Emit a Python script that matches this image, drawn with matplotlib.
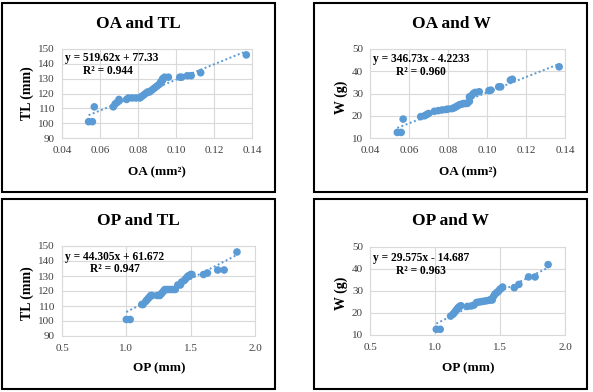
import matplotlib
matplotlib.use("Agg")
import matplotlib.pyplot as plt
from matplotlib.patches import Rectangle
import numpy as np

plt.rcParams['font.family'] = ['Liberation Serif', 'DejaVu Serif']

# ---- data ----
oa_tl_x = [0.054, 0.056, 0.057, 0.067, 0.068, 0.069, 0.070, 0.070, 0.074, 0.075, 0.077, 0.079,
           0.081, 0.082, 0.083, 0.084, 0.085, 0.086, 0.087, 0.088, 0.089, 0.090, 0.091, 0.092,
           0.092, 0.093, 0.093, 0.094, 0.096, 0.102, 0.103, 0.106, 0.108, 0.113, 0.137]
oa_tl_y = [101, 101, 111, 111, 113, 114, 115, 116, 116, 117, 117, 117,
           117, 118, 119, 120, 121, 121, 122, 123, 124, 125, 126, 127,
           128, 129, 130, 131, 131, 131, 131, 132, 132, 134, 146]

oa_w_x = [0.054, 0.056, 0.057, 0.066, 0.068, 0.069, 0.070, 0.073, 0.075, 0.077, 0.079, 0.080,
          0.082, 0.083, 0.084, 0.085, 0.086, 0.087, 0.088, 0.089, 0.090, 0.091, 0.091, 0.092,
          0.093, 0.094, 0.096, 0.101, 0.102, 0.106, 0.107, 0.112, 0.113, 0.137]
oa_w_y = [12.5, 12.5, 18.5, 19.6, 20.0, 20.5, 21.0, 22.0, 22.3, 22.6, 22.8, 23.0,
          23.2, 23.5, 24.0, 24.5, 25.0, 25.2, 25.5, 25.5, 25.6, 26.5, 28.5, 29.0,
          30.0, 30.5, 30.8, 31.3, 31.5, 33.0, 33.0, 36.0, 36.4, 42.0]

op_tl_x = [1.00, 1.03, 1.12, 1.13, 1.15, 1.16, 1.17, 1.18, 1.19, 1.20, 1.24, 1.26,
           1.27, 1.28, 1.29, 1.30, 1.32, 1.34, 1.36, 1.38, 1.40, 1.42, 1.43, 1.45,
           1.46, 1.47, 1.48, 1.49, 1.50, 1.51, 1.60, 1.63, 1.71, 1.76, 1.86]
op_tl_y = [101, 101, 111, 111, 113, 114, 115, 116, 117, 117, 117, 117,
           118, 119, 120, 121, 121, 121, 121, 121, 124, 124, 126, 127,
           128, 129, 130, 130, 131, 131, 131, 132, 134, 134, 146]

op_w_x = [1.01, 1.04, 1.12, 1.14, 1.15, 1.16, 1.17, 1.18, 1.19, 1.20, 1.25, 1.28,
          1.30, 1.32, 1.34, 1.36, 1.38, 1.40, 1.42, 1.44, 1.45, 1.46, 1.47, 1.48,
          1.49, 1.50, 1.51, 1.52, 1.61, 1.645, 1.72, 1.77, 1.87]
op_w_y = [12.6, 12.6, 18.6, 19.5, 20.3, 21.0, 21.8, 22.5, 23.0, 23.3, 23.0, 23.2,
          23.6, 24.8, 25.0, 25.2, 25.4, 25.6, 25.8, 25.9, 27.5, 28.5, 29.0, 29.5,
          30.0, 30.8, 31.2, 31.8, 31.5, 33.0, 36.4, 36.4, 42.0]

titles = ["OA and TL", "OA and W", "OP and TL", "OP and W"]
xlabels = ["OA (mm²)", "OA (mm²)", "OP (mm)", "OP (mm)"]
ylabels = ["TL (mm)", "W (g)", "TL (mm)", "W (g)"]
equations = ["y = 519.62x + 77.33", "y = 346.73x - 4.2233",
             "y = 44.305x + 61.672", "y = 29.575x - 14.687"]
r2_labels = ["R² = 0.944", "R² = 0.960", "R² = 0.947", "R² = 0.963"]
slopes = [519.62, 346.73, 44.305, 29.575]
intercepts = [77.33, -4.2233, 61.672, -14.687]
oa_ticks = [0.04, 0.06, 0.08, 0.10, 0.12, 0.14]
op_ticks = [0.5, 1.0, 1.5, 2.0]
tl_ticks = [90, 100, 110, 120, 130, 140, 150]
w_ticks = [10, 20, 30, 40, 50]

# ---- layout (pixels) ----
W, H = 593, 392
fig = plt.figure(figsize=(W / 100, H / 100), dpi=100)
fig.patch.set_facecolor('white')

def fx(px):
    return px / W

def fy(py):
    return 1 - py / H

# panel borders: (left, top, right, bottom)
borders = [(2, 3, 275, 192), (314, 3, 587, 192), (2, 199, 275, 389), (314, 199, 587, 389)]
axes_px = [(62, 49, 252, 138), (370, 49, 565, 138), (62, 246, 255, 336), (370, 247, 565, 335)]
title_pos = [(138, 24), (451, 24), (138, 221), (451, 221)]
xlabel_pos = [(157, 172), (468, 172), (159, 368), (468, 368)]
ylabel_pos = [(27, 93), (341, 97), (27, 293), (341, 293)]
eq_pos = [(65, 58), (373, 59), (65, 257), (373, 258)]
r2_pos = [(83, 71), (396, 72), (90, 269), (396, 271)]

datasets = [(oa_tl_x, oa_tl_y), (oa_w_x, oa_w_y), (op_tl_x, op_tl_y), (op_w_x, op_w_y)]
xticks_all = [oa_ticks, oa_ticks, op_ticks, op_ticks]
yticks_all = [tl_ticks, w_ticks, tl_ticks, w_ticks]
xfmt = ["{:.2f}", "{:.2f}", "{:.1f}", "{:.1f}"]

blue = "#5B9BD5"
grid_c = "#D9D9D9"

for i in range(4):
    l, t, r, b = borders[i]
    fig.patches.append(Rectangle((fx(l), fy(b)), fx(r) - fx(l), fy(t) - fy(b),
                                 transform=fig.transFigure, fill=False,
                                 edgecolor='black', linewidth=1.5))
    al, at, ar, ab = axes_px[i]
    ax = fig.add_axes([fx(al), fy(ab), fx(ar) - fx(al), fy(at) - fy(ab)])
    xs, ys = datasets[i]
    xt, yt = xticks_all[i], yticks_all[i]
    ax.set_xlim(xt[0], xt[-1])
    ax.set_ylim(yt[0], yt[-1])
    ax.set_xticks(xt)
    ax.set_xticklabels([xfmt[i].format(v) for v in xt])
    ax.set_yticks(yt)
    ax.set_yticklabels([str(v) for v in yt])
    ax.tick_params(length=0, labelsize=8, colors='#404040')
    ax.tick_params(axis='x', pad=6)
    ax.tick_params(axis='y', pad=5)
    ax.grid(True, color=grid_c, linewidth=0.8)
    ax.set_axisbelow(True)
    for s in ax.spines.values():
        s.set_color(grid_c)
        s.set_linewidth(0.8)
    xline = np.array([min(xs), max(xs)])
    ax.plot(xline, slopes[i] * xline + intercepts[i], linestyle=(0, (1, 1.3)),
            color=blue, linewidth=1.4, zorder=2)
    ax.scatter(xs, ys, s=30, color=blue, edgecolors='none', zorder=3, clip_on=False)

    fig.text(fx(title_pos[i][0]), fy(title_pos[i][1]), titles[i], ha='center', va='center',
             fontsize=12.5, fontweight='bold')
    fig.text(fx(xlabel_pos[i][0]), fy(xlabel_pos[i][1]), xlabels[i], ha='center', va='center',
             fontsize=9.5, fontweight='bold')
    fig.text(fx(ylabel_pos[i][0]), fy(ylabel_pos[i][1]), ylabels[i], ha='center', va='center',
             fontsize=10, fontweight='bold', rotation=90)
    fig.text(fx(eq_pos[i][0]), fy(eq_pos[i][1]), equations[i], ha='left', va='center',
             fontsize=8.3, fontweight='bold')
    fig.text(fx(r2_pos[i][0]), fy(r2_pos[i][1]), r2_labels[i], ha='left', va='center',
             fontsize=8.3, fontweight='bold')

fig.savefig("out.png", dpi=100)
